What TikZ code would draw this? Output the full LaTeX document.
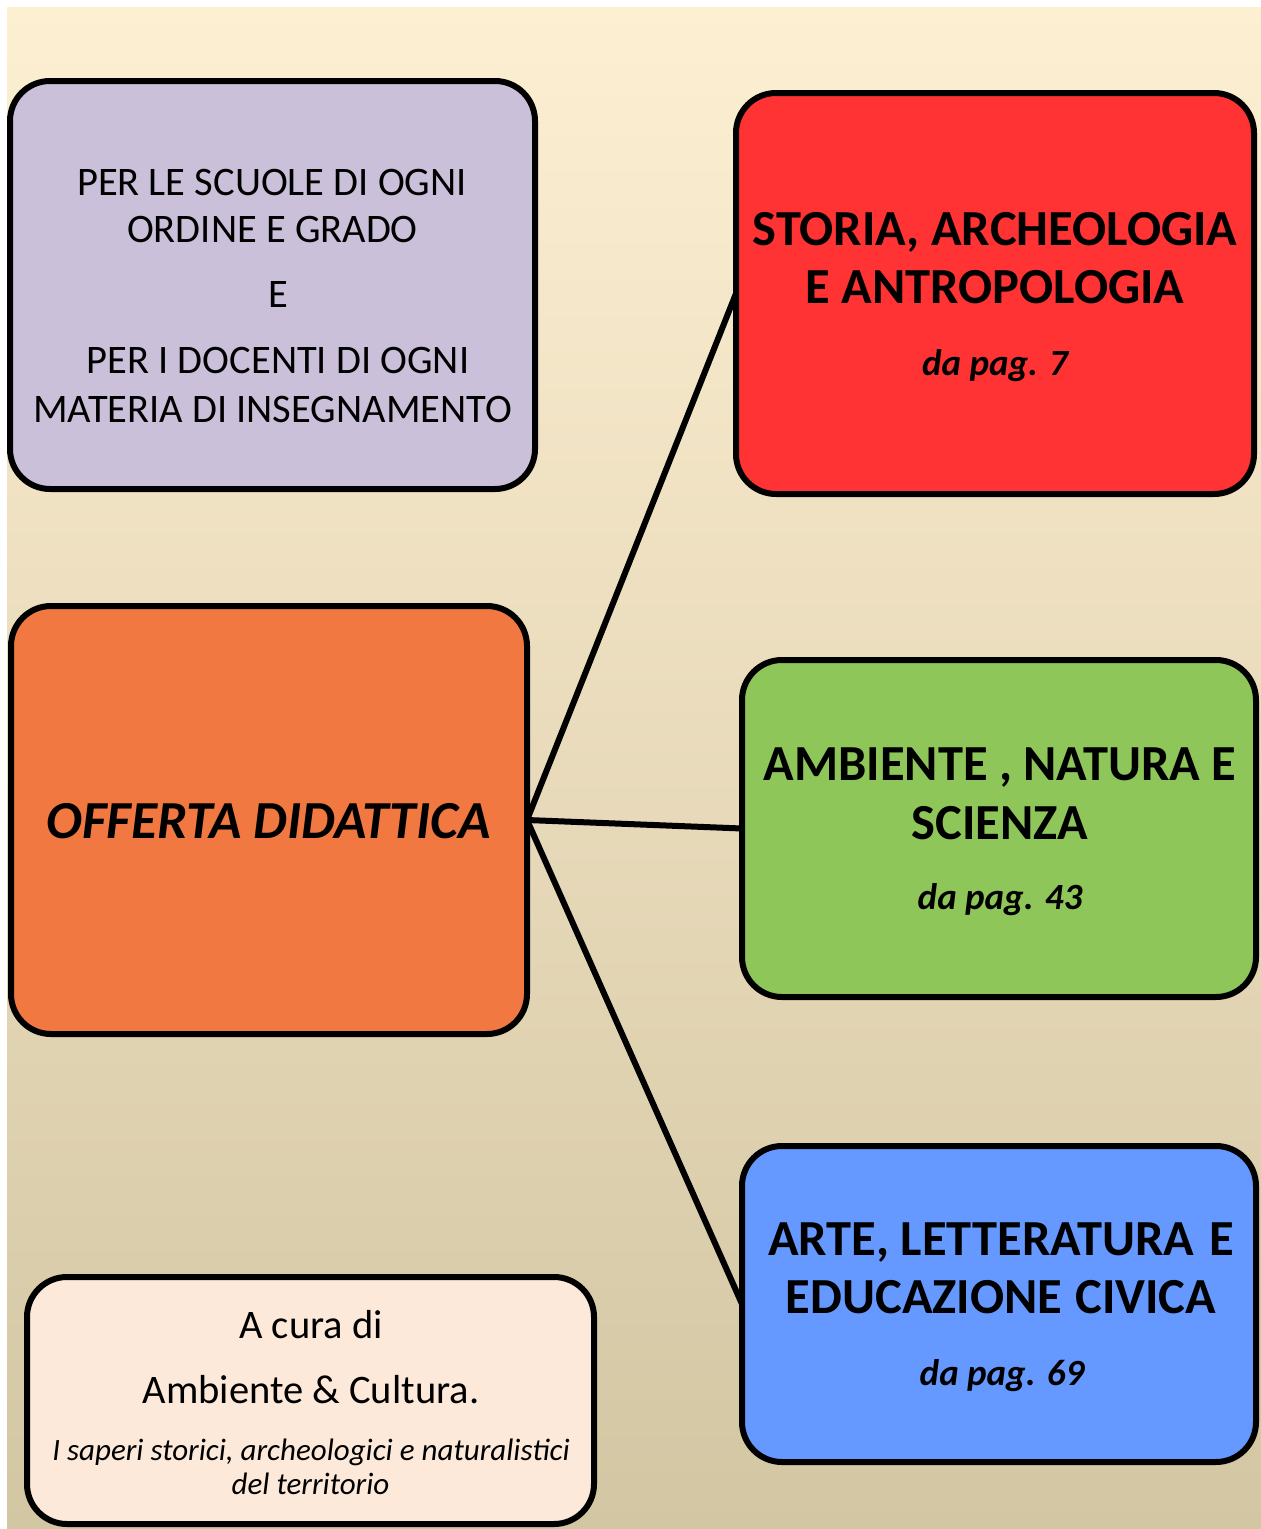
\documentclass[tikz,border=0pt]{standalone}
\usepackage{fontspec}
\setmainfont{Carlito}
\definecolor{bgtop}{HTML}{FDEFD2}
\definecolor{bgbot}{HTML}{D3C6A3}
\definecolor{cpurple}{HTML}{CBC0DA}
\definecolor{cred}{HTML}{FF3333}
\definecolor{corange}{HTML}{F27842}
\definecolor{cgreen}{HTML}{8FC65A}
\definecolor{cblue}{HTML}{6699FF}
\definecolor{ccream}{HTML}{FCE9D9}
\begin{document}
\begin{tikzpicture}[x=1pt,y=-1pt,
  box/.style={draw=black, line width=6pt, rounded corners=40pt, inner sep=0pt, outer sep=0pt},
  link/.style={draw=black, line width=6pt},
  ln/.style={anchor=base, inner sep=0pt, text=black},
  reg/.style={font=\fontsize{40.5}{46}\selectfont},
  ttl/.style={font=\fontsize{50.5}{56}\selectfont\bfseries},
  pag/.style={font=\fontsize{37}{42}\selectfont\bfseries\itshape},
  big/.style={font=\fontsize{53.5}{60}\selectfont\bfseries\itshape},
  cur/.style={font=\fontsize{40.5}{46}\selectfont},
  sub/.style={font=\fontsize{31}{36}\selectfont\itshape}]
\useasboundingbox (0,0) rectangle (1261,1529);
\fill[white] (0,0) rectangle (1261,1529);
\shade[top color=bgtop, bottom color=bgbot] (7,7) rectangle (1261,1529);

% boxes
\node[box, fill=cpurple, minimum width=525pt, minimum height=408pt] (purple) at (272.5,285) {};
\node[box, fill=cred, minimum width=518pt, minimum height=401pt] (red) at (995,293.5) {};
\node[box, fill=corange, minimum width=516pt, minimum height=428pt] (orange) at (269,820) {};
\node[box, fill=cgreen, minimum width=514pt, minimum height=337pt] (green) at (999,828.5) {};
\node[box, fill=cblue, minimum width=514pt, minimum height=316pt] (blue) at (999,1304) {};
\node[box, fill=ccream, minimum width=567pt, minimum height=247pt] (cura) at (310.5,1400.5) {};

% connectors
\draw[link] (orange.east) -- (red.west);
\draw[link] (orange.east) -- (green.west);
\draw[link] (orange.east) -- (blue.west);

% purple text
\node[ln, reg] (p1) at (272,195) {PER LE SCUOLE DI OGNI};
\node[ln, reg] (p2) at (272.5,242) {ORDINE E GRADO};
\node[ln, reg] (p3) at (278,307) {E};
\node[ln, reg] (p4) at (278,373) {PER I DOCENTI DI OGNI};
\node[ln, reg] (p5) at (272.5,422) {MATERIA DI INSEGNAMENTO};

% red text
\node[ln, ttl] (r1) at (995,245) {STORIA, ARCHEOLOGIA};
\node[ln, ttl] (r2) at (995,303) {E ANTROPOLOGIA};
\node[ln, pag] (r3) at (995,375) {da pag. 7};

% orange text
\node[ln, big] (o1) at (268.5,838) {OFFERTA DIDATTICA};

% green text
\node[ln, ttl] (g1) at (1000,780) {AMBIENTE , NATURA E};
\node[ln, ttl] (g2) at (1000,839) {SCIENZA};
\node[ln, pag] (g3) at (1000,909) {da pag. 43};

% blue text
\node[ln, ttl] (b1) at (1001,1255) {ARTE, LETTERATURA\hspace{15pt}E};
\node[ln, ttl] (b2) at (1001,1313) {EDUCAZIONE\hspace{13pt}CIVICA};
\node[ln, pag] (b3) at (1002,1385) {da pag. 69};

% bottom text
\node[ln, cur] (c1) at (311,1338) {A cura di};
\node[ln, cur] (c2) at (311,1403) {Ambiente \& Cultura.};
\node[ln, sub] (c3) at (311,1460) {I saperi storici, archeologici e naturalistici};
\node[ln, sub] (c4) at (310.5,1494) {del territorio};
\end{tikzpicture}
\end{document}
